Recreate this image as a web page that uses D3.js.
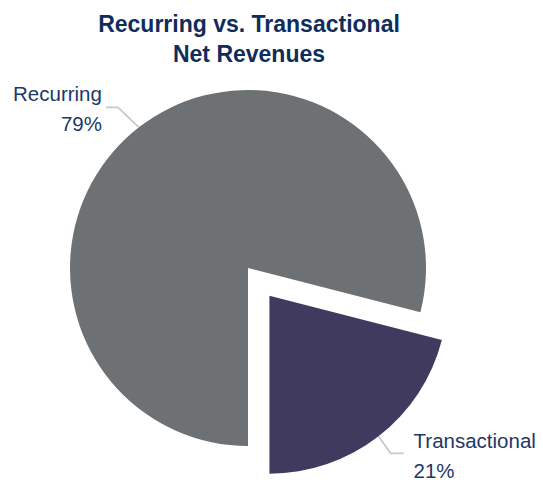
<!DOCTYPE html>
<html>
<head>
<meta charset="utf-8">
<script src="https://cdn.jsdelivr.net/npm/d3@7"></script>
<style>
  body { margin: 0; background: #fff; }
  svg { display: block; font-family: "Liberation Sans", Arial, sans-serif; }
</style>
</head>
<body>
<div id="chart"></div>
<script>
// Data
const categories = ["Recurring", "Transactional"];
const shares = [79, 21];
const titleLines = ["Recurring vs. Transactional", "Net Revenues"];

const width = 543,
    height = 480;

const cx = 248, cy = 268, radius = 178, explode = 35;

const colors = d3.scaleOrdinal()
    .domain(categories)
    .range(["#6d7173", "#413a5f"]);

const data = categories.map((c, i) => ({ name: c, value: shares[i] }));

const svg = d3.select("#chart")
    .append("svg")
    .attr("width", width)
    .attr("height", height);

// Title
svg.append("text")
    .attr("x", 249)
    .attr("y", 32)
    .attr("text-anchor", "middle")
    .style("font-size", "23px")
    .style("font-weight", "bold")
    .style("fill", "#0e2d5c")
    .selectAll("tspan")
    .data(titleLines)
    .enter().append("tspan")
    .attr("x", 249)
    .attr("dy", (d, i) => i === 0 ? 0 : 30)
    .text(d => d);

// Pie: Recurring starts at the bottom and runs clockwise
const pie = d3.pie()
    .value(d => d.value)
    .sort(null)
    .startAngle(Math.PI)
    .endAngle(3 * Math.PI);

const arc = d3.arc().innerRadius(0).outerRadius(radius);

const arcs = pie(data);

// offset for exploded slice
function offset(d) {
    if (d.data.name !== "Transactional") return [0, 0];
    const a = (d.startAngle + d.endAngle) / 2;
    return [Math.sin(a) * explode, -Math.cos(a) * explode];
}

const g = svg.append("g")
    .attr("transform", `translate(${cx},${cy})`);

g.selectAll("path")
    .data(arcs)
    .enter()
    .append("path")
    .attr("d", arc)
    .attr("transform", d => `translate(${offset(d)})`)
    .attr("fill", d => colors(d.data.name));

// Leader lines and labels
arcs.forEach(d => {
    const a = (d.startAngle + d.endAngle) / 2;
    const [ox, oy] = offset(d);
    const x0 = ox + Math.sin(a) * radius;
    const y0 = oy - Math.cos(a) * radius;
    const left = Math.sin(a) < 0;
    const x1 = x0 + (left ? -21 : 12);
    const y1 = y0 + (left ? -20 : 17);
    const x2 = x1 + (left ? -12 : 13);

    g.append("polyline")
        .attr("points", [[x0, y0], [x1, y1], [x2, y1]].join(" "))
        .attr("fill", "none")
        .attr("stroke", "#c8c8c8")
        .attr("stroke-width", 1.8);

    const lx = left ? x2 - 4 : x2 + 10;
    const ly = left ? y1 - 6 : y1 - 5;
    const t = g.append("text")
        .attr("text-anchor", left ? "end" : "start")
        .style("font-size", "20.5px")
        .style("fill", "#1c3866");
    t.append("tspan").attr("x", lx).attr("y", ly).text(d.data.name);
    t.append("tspan").attr("x", lx).attr("y", ly + 30).text(d.data.value + "%");
});
</script>
</body>
</html>
